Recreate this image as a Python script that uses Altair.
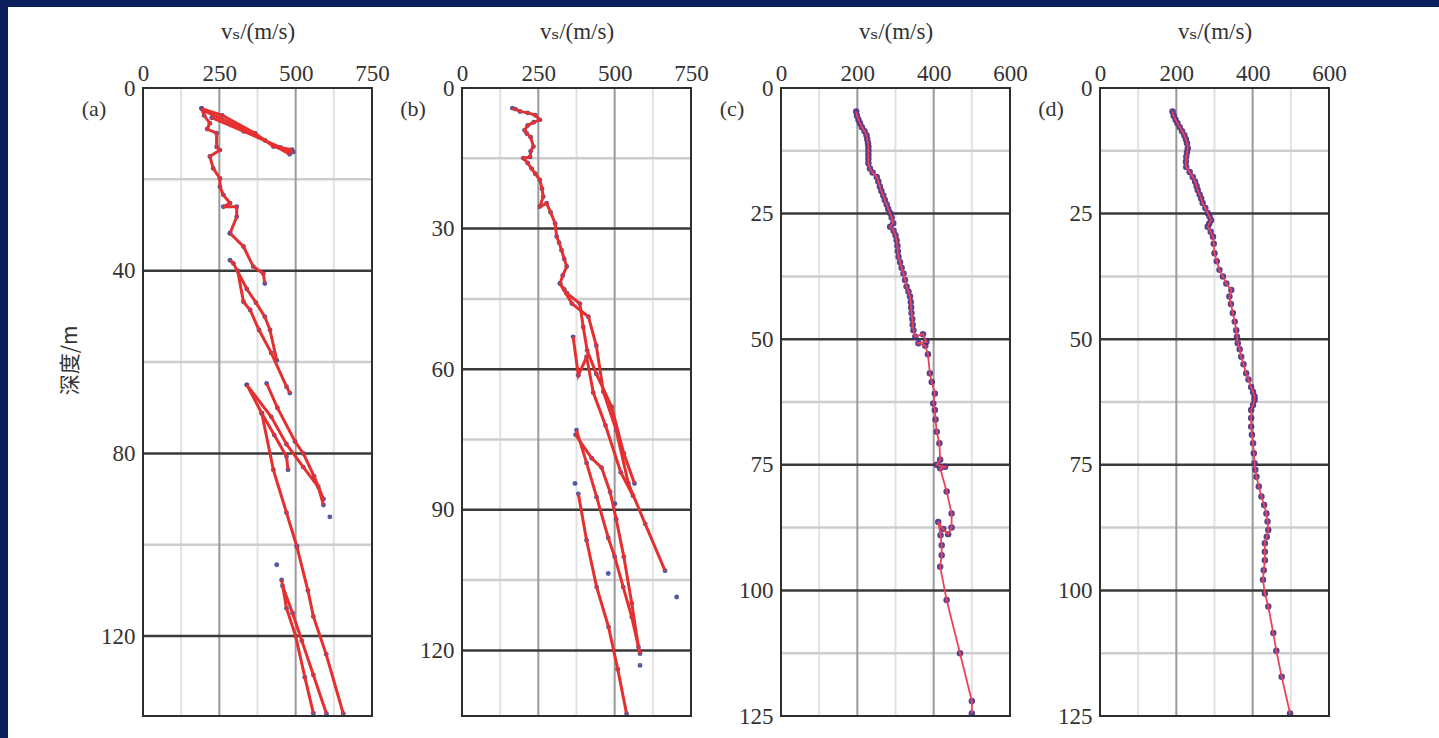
import altair as alt
import pandas as pd

NAVY = "#0b1f5c"
SERIF = "Liberation Serif, Times New Roman, DejaVu Serif, serif"
CJK = "Noto Sans CJK SC"

# ---------------- Panel (a): (vs, depth) vertices ----------------
A_TRUNK = [(192, 4.5), (200, 6), (219, 7.7), (210, 9), (241, 9.9), (241, 12.9), (252, 13.6),
           (219, 15), (230, 17.6), (252, 19.8), (252, 21.6), (263, 23.4), (285, 25.2), (263, 26),
           (307, 26), (307, 28.2), (285, 31.8)]
A_UP1 = [(192, 4.5), (260, 6), (367, 9.9), (427, 12.8), (492, 14)]
A_UP2 = [(200, 5), (300, 8), (400, 11.5), (480, 14.5)]
A_UP3 = [(225, 6.5), (330, 9.5), (450, 13), (488, 13.5)]
A_MID1 = [(285, 31.8), (329, 34.7), (361, 39.1), (394, 40.6), (399, 42.8)]
A_MID2 = [(285, 37.7), (296, 38.4), (340, 44), (370, 47), (399, 50.1), (416, 53), (438, 59.6)]
A_MID3 = [(310, 40), (329, 46.8), (351, 48.6), (380, 53), (420, 58), (470, 65.4), (481, 66.8)]
A_LOW1 = [(340, 65), (389, 71.2), (430, 76), (470, 80.7), (475, 83.6)]
A_LOW2 = [(340, 65), (420, 72), (470, 78), (525, 83), (574, 87.3), (591, 91.3)]
A_LOW3 = [(405, 64.7), (440, 70), (498, 77.4), (525, 80), (560, 85), (591, 90)]
A_LOW4 = [(389, 71.2), (427, 83.6), (470, 93), (504, 100.4), (540, 110), (558, 115.7), (600, 124), (656, 137)]
A_LOW5 = [(454, 107.7), (470, 113.9), (500, 120), (530, 129), (558, 136.9)]
A_LOW6 = [(457, 109), (490, 115), (520, 121), (558, 128.5), (601, 137)]
A_LONE = [(612, 93.9), (438, 104.4), (504, 100.4)]

# ---------------- Panel (b) ----------------
B_TRUNK = [(165, 4.3), (175, 4.5), (190, 5), (215, 5.3), (240, 5.8), (255, 6.8), (235, 7.3), (215, 8),
           (205, 9), (212, 9.7), (225, 10.5), (234, 12.5), (225, 13.5), (223, 14.7), (201, 15),
           (215, 16), (228, 17.2), (240, 18.3), (255, 19.6), (262, 21.5), (266, 23.2), (255, 25.3),
           (277, 24.6), (290, 26.5), (305, 28.9), (310, 31.7), (318, 33), (326, 34.6), (335, 36.5),
           (343, 38.1), (330, 40), (321, 41.7), (335, 43), (343, 43.8)]
B_L1 = [(321, 41.7), (360, 46), (414, 48.8), (440, 55), (463, 64.8), (505, 73), (545, 84.4), (600, 93), (665, 103)]
B_L2 = [(343, 43.8), (386, 46), (397, 51), (410, 56), (440, 61), (490, 68), (530, 78), (565, 84.4)]
B_L3 = [(364, 53.1), (381, 61.3), (408, 57.4), (430, 65), (470, 72), (520, 82), (560, 87)]
B_L4 = [(375, 73), (408, 80), (441, 87.3), (479, 96), (500, 100), (528, 106.5), (556, 112.9), (583, 120.7)]
B_L5 = [(372, 74), (425, 79), (457, 81), (485, 86.2), (505, 92), (530, 100), (556, 110), (578, 119.3)]
B_L6 = [(381, 86.6), (408, 96.5), (441, 106.5), (480, 115), (510, 124), (539, 133.5)]
B_LONE = [(370, 84.4), (501, 88.7), (703, 108.6), (583, 123.2), (479, 103.6)]

# ---------------- Panel (c) ----------------
C_PROFILE = [(197, 4.7), (199, 5.5), (203, 6.3), (207, 7.0), (212, 7.8), (219, 8.6), (224, 9.4),
             (226, 10.2), (228, 11), (229, 11.7), (229, 12.5), (229, 13.3), (229, 14.1), (229, 15),
             (233, 16), (240, 16.8), (251, 17.7), (255, 18.6), (259, 19.6), (263, 20.5), (268, 21.4),
             (272, 22.3), (277, 23.2), (281, 24.1), (286, 24.9), (290, 25.8), (294, 26.9), (286, 27.6),
             (295, 28.4), (300, 29.3), (303, 30.3), (305, 31.4), (306, 32.5), (308, 33.6), (312, 34.7),
             (316, 35.8), (321, 36.9), (325, 38.2), (329, 39.5), (334, 40.5), (338, 41.5), (340, 42.6),
             (341, 43.7), (342, 44.8), (344, 46), (345, 47.1), (347, 48.2), (352, 49.5), (372, 49),
             (381, 50.5), (360, 50.8), (378, 51.3), (385, 53), (390, 56.8), (395, 58.5), (403, 60.8),
             (399, 62.8), (403, 64.1), (405, 66), (408, 68.4), (415, 70.7), (417, 74), (408, 75),
             (430, 75.4), (417, 75.7), (434, 80.3), (447, 84.7), (447, 87.5), (438, 88.8), (425, 87.8),
             (412, 86.4), (418, 89), (421, 91), (421, 93), (417, 95.3), (434, 101.9), (469, 112.5),
             (500, 122), (500, 124.5)]

# ---------------- Panel (d) ----------------
D_PROFILE = [(190, 4.7), (193, 5.5), (198, 6.3), (203, 7), (209, 7.8), (215, 8.6), (221, 9.4),
             (225, 10.2), (228, 11), (230, 12), (228, 12.8), (226, 13.7), (225, 14.7), (226, 15.7),
             (235, 16.7), (243, 17.7), (249, 18.6), (253, 19.5), (256, 20.3), (261, 21.2), (265, 22),
             (269, 22.9), (276, 23.9), (282, 24.9), (287, 25.6), (291, 26.3), (286, 27), (282, 27.6),
             (290, 28.6), (296, 29.6), (298, 31), (300, 32.9), (306, 34.5), (313, 36.2), (322, 37.5),
             (331, 38.9), (344, 40.2), (339, 41.5), (343, 43), (348, 44.8), (353, 46.5), (357, 48.2),
             (359, 49.5), (361, 50.8), (366, 52), (370, 53.5), (376, 55), (383, 56.8), (389, 58),
             (396, 59.5), (401, 60.5), (405, 61.4), (405, 62.1), (401, 63.1), (396, 64.1), (396, 65.7),
             (396, 67.4), (398, 69), (401, 70.7), (403, 72.7), (405, 74.7), (407, 76), (410, 77.4),
             (416, 79.3), (423, 81.3), (430, 83), (436, 84.7), (439, 86.3), (441, 88), (437, 89.3),
             (432, 90.6), (432, 92.3), (432, 94), (429, 96), (427, 97.9), (432, 100.6), (441, 103.2),
             (454, 108.5), (462, 112), (476, 117.2), (498, 124.5)]

# ---------------- axes / grids ----------------
AB_XTICKS = [0, 250, 500, 750]
AB_XMAJOR = [250, 500]
AB_XMINOR = [125, 375, 625]
A_YTICKS = [0, 40, 80, 120]
A_YMAJOR = [40, 80, 120]
A_YMINOR = [20, 60, 100]
B_YTICKS = [0, 30, 60, 90, 120]
B_YMAJOR = [30, 60, 90, 120]
B_YMINOR = [15, 45, 75, 105]
CD_XTICKS = [0, 200, 400, 600]
CD_XMAJOR = [200, 400]
CD_XMINOR = [100, 300, 500]
CD_YTICKS = [0, 25, 50, 75, 100, 125]
CD_YMAJOR = [25, 50, 75, 100]
CD_YMINOR = [12.5, 37.5, 62.5, 87.5, 112.5]

XTITLE = "vₛ/(m/s)"
YTITLE = "深度/m"
W, H = 229, 628


def to_df(series):
    rows = []
    for name, pts in series.items():
        for i, (v, d) in enumerate(pts):
            rows.append({"s": name, "i": i, "v": v, "d": d})
    return pd.DataFrame(rows)


def panel(series, lone, xmax, ymax, xticks, xmajor, xminor, yticks, ymajor, yminor,
          tag, x_left, x_right, ytitle, line_color, line_w, pt_color, pt_size):
    xs = alt.Scale(domain=[0, xmax], nice=False, zero=False)
    ys = alt.Scale(domain=[0, ymax], reverse=True, nice=False, zero=False)
    df = to_df(series)
    pts = pd.concat([df, to_df({"lone": lone})], ignore_index=True) if lone else df

    x_axis = alt.Axis(orient="top", values=xticks, title=XTITLE, labelFlush=False, ticks=False,
                      tickSize=0, domain=False, grid=False, labelFont=SERIF, labelFontSize=23,
                      labelColor="#333333", labelPadding=3, labelOverlap=False,
                      titleFont=SERIF, titleFontSize=23, titleFontWeight="normal",
                      titleColor="#333333", titlePadding=19, zindex=2)
    yargs = dict(orient="left", values=yticks, ticks=False, tickSize=0, domain=False, grid=False,
                 labelFont=SERIF, labelFontSize=23, labelColor="#333333", labelPadding=8,
                 labelFlush=False, labelOverlap=False, zindex=2)
    if ytitle:
        y_axis = alt.Axis(title=ytitle, titleFont=CJK, titleFontSize=21, titleFontWeight="normal",
                          titleColor="#333333", titleX=-73, titleY=272, titleAngle=270,
                          titleAlign="center", titleBaseline="middle", **yargs)
    else:
        y_axis = alt.Axis(title="", **yargs)

    X = lambda f: alt.X(f, scale=xs, axis=x_axis)
    Y = lambda f: alt.Y(f, scale=ys, axis=y_axis)

    bg = alt.Chart(pd.DataFrame({"k": [0]})).mark_rect(color="white").encode(
        x=alt.value(x_left), x2=alt.value(x_right), y=alt.value(-81), y2=alt.value(650))

    def hrules(vals, color, width):
        return alt.Chart(pd.DataFrame({"g": vals})).mark_rule(color=color, strokeWidth=width).encode(
            y=Y("g:Q"))

    def vrules(vals, color, width):
        return alt.Chart(pd.DataFrame({"g": vals})).mark_rule(color=color, strokeWidth=width).encode(
            x=X("g:Q"))

    lines = alt.Chart(df).mark_line(color=line_color, strokeWidth=line_w).encode(
        x=X("v:Q"), y=Y("d:Q"), detail="s:N", order="i:Q")
    dots = alt.Chart(pts).mark_circle(color=pt_color, size=pt_size, opacity=0.9).encode(
        x=X("v:Q"), y=Y("d:Q"))
    fdf = pd.DataFrame({"x0": [0], "x1": [xmax], "y0": [0], "y1": [ymax]})
    frame = alt.Chart(fdf).mark_rect(filled=False, color="#2e2e2e", strokeWidth=2).encode(
        x=X("x0:Q"), x2="x1:Q", y=Y("y0:Q"), y2="y1:Q")
    label = alt.Chart(pd.DataFrame({"t": [tag]})).mark_text(
        font=SERIF, fontSize=22, color="#333333", align="center", baseline="middle").encode(
        x=alt.value(-49), y=alt.value(21), text="t:N")

    return alt.layer(
        bg,
        vrules(xminor, "#e2e2e2", 2), hrules(yminor, "#cdcdcd", 2.5),
        vrules(xmajor, "#9a9a9a", 2), hrules(ymajor, "#3a3a3a", 2.5),
        dots, lines, frame, label
    ).properties(width=W, height=H)


pa = panel({"t": A_TRUNK, "u1": A_UP1, "u2": A_UP2, "u3": A_UP3, "m1": A_MID1, "m2": A_MID2,
            "m3": A_MID3, "l1": A_LOW1, "l2": A_LOW2, "l3": A_LOW3, "l4": A_LOW4, "l5": A_LOW5,
            "l6": A_LOW6}, A_LONE, 750, 137.5, AB_XTICKS, AB_XMAJOR, AB_XMINOR,
           A_YTICKS, A_YMAJOR, A_YMINOR, "(a)", -135, 274, YTITLE, "#e5302f", 3, "#3d4a9e", 24)
pb = panel({"t": B_TRUNK, "l1": B_L1, "l2": B_L2, "l3": B_L3, "l4": B_L4, "l5": B_L5, "l6": B_L6},
           B_LONE, 750, 134, AB_XTICKS, AB_XMAJOR, AB_XMINOR, B_YTICKS, B_YMAJOR, B_YMINOR,
           "(b)", -45, 274, None, "#e5302f", 3, "#3d4a9e", 24)
pc = panel({"p": C_PROFILE}, None, 600, 125, CD_XTICKS, CD_XMAJOR, CD_XMINOR, CD_YTICKS,
           CD_YMAJOR, CD_YMINOR, "(c)", -45, 274, None, "#e8445a", 1.8, "#4b2e83", 42)
pd_ = panel({"p": D_PROFILE}, None, 600, 125, CD_XTICKS, CD_XMAJOR, CD_XMINOR, CD_YTICKS,
            CD_YMAJOR, CD_YMINOR, "(d)", -45, 339, None, "#e8445a", 1.8, "#4b2e83", 42)

chart = alt.hconcat(pa, pb, pc, pd_, spacing=90, bounds="flush").properties(
    padding={"left": 8, "top": 7, "right": 0, "bottom": 0}, background=NAVY
).configure_view(strokeWidth=0)

chart.save("out.html", embed_options={"renderer": "svg", "actions": False})
